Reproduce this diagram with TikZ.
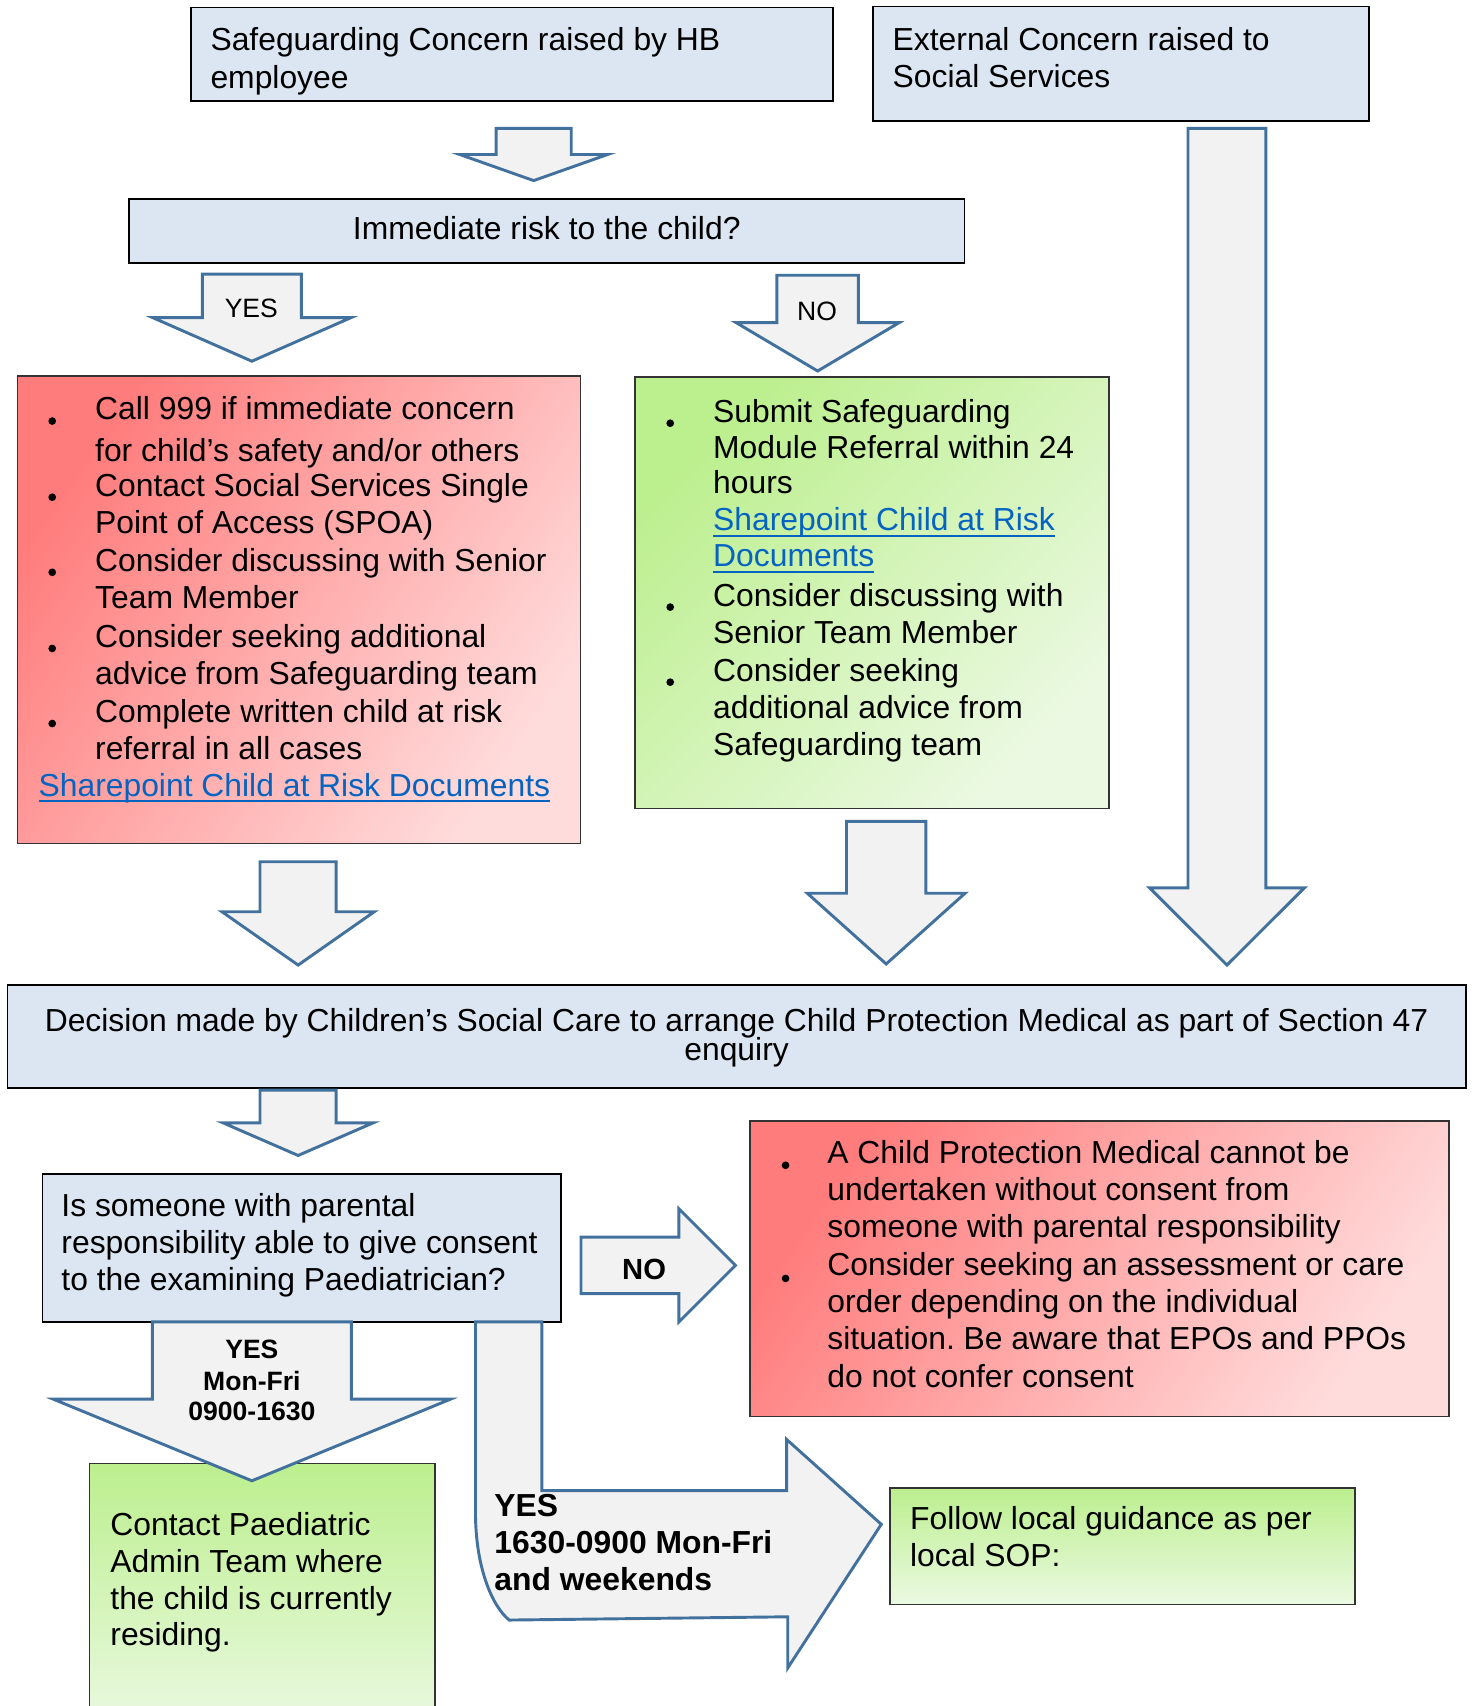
\documentclass[tikz,border=0pt]{standalone}
\usepackage{fontspec}
\setmainfont{Liberation Sans}
\usetikzlibrary{fit}
\frenchspacing
\definecolor{boxblue}{HTML}{DCE6F2}
\definecolor{arrfill}{HTML}{F2F2F2}
\definecolor{arrline}{HTML}{41719C}
\definecolor{redA}{HTML}{FF7C7C}
\definecolor{redB}{HTML}{FFDCDC}
\definecolor{grnA}{HTML}{BCEF8E}
\definecolor{grnB}{HTML}{EBF9E2}
\definecolor{linkblue}{HTML}{0563C1}
\definecolor{edgegray}{HTML}{333333}
\newcommand{\lnk}[1]{\textcolor{linkblue}{\setbox0\hbox{#1}\rlap{\rule[-2.2pt]{\wd0}{0.8pt}}\box0}}
\newcommand{\dnarrow}[6]{% cx, shaft half, head half, ytop, yhead, ytip
  \draw[blockarrow] (#1-#2,#4) -- (#1+#2,#4) -- (#1+#2,#5) -- (#1+#3,#5) -- (#1,#6)
    -- (#1-#3,#5) -- (#1-#2,#5) -- cycle;}
\tikzset{
  box/.style={inner sep=0pt, draw=black, line width=0.65pt},
  bluebox/.style={box, fill=boxblue},
  redbox/.style={box, draw=edgegray, top color=redA, bottom color=redB, shading angle=55},
  grnbox/.style={box, draw=edgegray, top color=grnA, bottom color=grnB, shading angle=45},
  grnvbox/.style={box, draw=edgegray, top color=grnA, bottom color=grnB},
  blockarrow/.style={fill=arrfill, draw=arrline, line width=1.1pt, line join=miter},
  txt/.style={inner sep=0pt, anchor=base west, font=\fontsize{12}{14}\selectfont},
  ctxt/.style={txt, anchor=base},
  small/.style={inner sep=0pt, anchor=base, font=\fontsize{10}{12}\selectfont},
  bsmall/.style={inner sep=0pt, anchor=base, font=\fontsize{10}{12}\selectfont\bfseries},
  bbig/.style={inner sep=0pt, anchor=base west, font=\fontsize{12}{14}\selectfont\bfseries},
  bul/.style={circle, fill=black, inner sep=0pt, minimum size=2.9pt},
}
\begin{document}
\begin{tikzpicture}[x=0.41pt,y=-0.41pt]
\path[use as bounding box, clip] (0,0) rectangle (1356,1568);

% ---------- boxes ----------
\node[bluebox, fit={(175.5,7) (765.5,92.6)}] (hb) {};
\node[bluebox, fit={(802.5,6) (1258.5,111)}] (ext) {};
\node[bluebox, fit={(118.5,183) (886.5,241.5)}] (imm) {};
\node[redbox, fit={(16,345.7) (533.6,775.3)}] (redL) {};
\node[grnbox, fit={(583.5,346.3) (1019.6,743)}] (grn) {};
\node[bluebox, fit={(7,905) (1347.5,1000)}] (dec) {};
\node[bluebox, fit={(39,1079) (515.5,1215)}] (q) {};
\node[redbox, fit={(689.3,1030.5) (1332,1302)}] (redR) {};
\node[grnvbox, fit={(82.2,1345) (399.6,1590)}] (contact) {};
\node[grnvbox, fit={(818,1367.6) (1245.4,1474.6)}] (follow) {};

% ---------- block arrows ----------
\dnarrow{490.5}{34.5}{68}{118}{142}{166}
\dnarrow{231.5}{45.5}{91}{252}{292}{332}
\dnarrow{751.5}{37.5}{75}{253}{296.5}{341}
\dnarrow{1127.7}{35.8}{71.2}{118}{816}{887}
\dnarrow{274}{35}{70}{792}{838}{887}
\dnarrow{814.5}{36.5}{72.5}{755}{821}{886}
\dnarrow{274}{35}{69}{1002}{1032}{1062}
\dnarrow{231.5}{91.5}{182.5}{1215}{1286}{1361}
% NO right arrow
\draw[blockarrow] (534,1137) -- (624,1137) -- (624,1111) -- (676,1163) -- (624,1215)
  -- (624,1189) -- (534,1189) -- cycle;
% bent arrow
\draw[blockarrow] (437,1215) -- (437,1390) .. controls (437,1440) and (452,1476) .. (468,1489)
  -- (724,1486) -- (724,1533) -- (810,1401) -- (723,1323) -- (723,1370) -- (498,1370)
  -- (498,1215) -- cycle;

% ---------- texts ----------
\node[txt] (hb1) at (193,46) {Safeguarding Concern raised by HB};
\node[txt] (hb2) at (193,81) {employee};
\node[txt] (ex1) at (820,46) {External Concern raised to};
\node[txt] (ex2) at (820,80) {Social Services};
\node[ctxt] (imm1) at (502.5,220) {Immediate risk to the child?};
\node[small] (yes1) at (231,292) {YES};
\node[small] (no1) at (751,295) {NO};

% red left
\node[bul] (rb1) at (48,387) {};
\node[bul] (rb2) at (48,457) {};
\node[bul] (rb3) at (48,526) {};
\node[bul] (rb4) at (48,596) {};
\node[bul] (rb5) at (48,665) {};
\node[txt] (r1) at (87,386) {Call 999 if immediate concern};
\node[txt] (r2) at (87,424) {for child’s safety and/or others};
\node[txt] (r3) at (87,456) {Contact Social Services Single};
\node[txt] (r4) at (87,490) {Point of Access (SPOA)};
\node[txt] (r5) at (87,525) {Consider discussing with Senior};
\node[txt] (r6) at (87,559) {Team Member};
\node[txt] (r7) at (87,595) {Consider seeking additional};
\node[txt] (r8) at (87,629) {advice from Safeguarding team};
\node[txt] (r9) at (87,664) {Complete written child at risk};
\node[txt] (r10) at (87,698) {referral in all cases};
\node[txt] (rl) at (35,732) {\lnk{Sharepoint Child at Risk Documents}};

% green
\node[bul] (gb1) at (616,389) {};
\node[bul] (gb2) at (616,558) {};
\node[bul] (gb3) at (616,627) {};
\node[txt] (g1) at (655,388) {Submit Safeguarding};
\node[txt] (g2) at (655,421) {Module Referral within 24};
\node[txt] (g3) at (655,454) {hours};
\node[txt] (g4) at (655,488) {\lnk{Sharepoint Child at Risk}};
\node[txt] (g5) at (655,521) {\lnk{Documents}};
\node[txt] (g6) at (655,557) {Consider discussing with};
\node[txt] (g7) at (655,591) {Senior Team Member};
\node[txt] (g8) at (655,626) {Consider seeking};
\node[txt] (g9) at (655,660) {additional advice from};
\node[txt] (g10) at (655,694) {Safeguarding team};

% decision
\node[ctxt] (d1) at (677,948) {Decision made by Children’s Social Care to arrange Child Protection Medical as part of Section 47};
\node[ctxt] (d2) at (677,975) {enquiry};

% question
\node[txt] (q1) at (56,1118) {Is someone with parental};
\node[txt] (q2) at (56,1152) {responsibility able to give consent};
\node[txt] (q3) at (56,1186) {to the examining Paediatrician?};
\node[inner sep=0pt, anchor=base, font=\fontsize{11}{13}\selectfont\bfseries] (no2) at (592,1176) {NO};

% red right
\node[bul] (cb1) at (722,1071) {};
\node[bul] (cb2) at (722,1175) {};
\node[txt] (c1) at (760,1069) {A Child Protection Medical cannot be};
\node[txt] (c2) at (760,1103) {undertaken without consent from};
\node[txt] (c3) at (760,1137) {someone with parental responsibility};
\node[txt] (c4) at (760,1172) {Consider seeking an assessment or care};
\node[txt] (c5) at (760,1206) {order depending on the individual};
\node[txt] (c6) at (760,1240) {situation. Be aware that EPOs and PPOs};
\node[txt] (c7) at (760,1275) {do not confer consent};

% YES big arrow labels
\node[bsmall] (y1) at (231.5,1249) {YES};
\node[bsmall] (y2) at (231.5,1278) {Mon-Fri};
\node[bsmall] (y3) at (231.5,1306) {0900-1630};

% contact
\node[txt] (t1) at (101,1411) {Contact Paediatric};
\node[txt] (t2) at (101,1445) {Admin Team where};
\node[txt] (t3) at (101,1479) {the child is currently};
\node[txt] (t4) at (101,1512) {residing.};

% bent arrow labels
\node[bbig] (w1) at (454,1394) {YES};
\node[bbig] (w2) at (454,1428) {1630-0900 Mon-Fri};
\node[bbig] (w3) at (454,1462) {and weekends};

% follow
\node[txt] (f1) at (836,1406) {Follow local guidance as per};
\node[txt] (f2) at (836,1440) {local SOP:};
\end{tikzpicture}
\end{document}
